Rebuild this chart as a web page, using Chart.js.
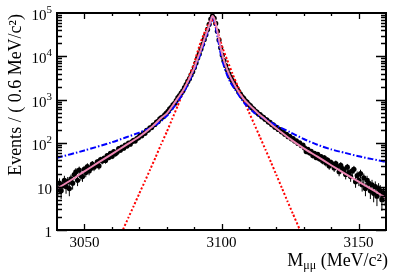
<!DOCTYPE html>
<html><head><meta charset="utf-8">
<script src="https://cdn.jsdelivr.net/npm/chart.js@4/dist/chart.umd.min.js"></script>
<style>html,body{margin:0;padding:0;background:#fff}#wrap{width:407px;height:276px;position:relative}</style>
</head><body><div id="wrap"><canvas id="c" width="407" height="276"></canvas></div>
<script>
// ---- data ----
const binLow = 3040, binWidth = 0.6;
const counts = [
9,12,8,11,14,10,13,9,15,12, 19,22,14,24,18,17,25,21,29,23,
26,33,28,31,37,30,42,39,45,40, 52,47,58,50,64,57,62,75,69,81,
77,90,86,101,95,108,117,112,128,134,
152,148,171,169,197,201,226,229,262,270,
305,318,362,391,405,452,497,541,622,668,
761,826,958,1131,1247,1436,1608,1921,2230,2651,
3072,3744,4450,5530,7040,9170,11430,14850,19010,24620,
31550,41760,54900,72510,85050,75920,57480,38090,23930,15900,
10680,7980,6140,4920,3960,3330,2800,2415,2030,1791,
1538,1360,1190,1081,947,880,785,733,652,612,
549,520,470,455,409,395,356,346,309,301,
269,263,234,231,208,205,183,182,161,159,
141,143,126,127,112,114,99,102,88,91,
78,64,72,60,65,52,58,47,55,44, 49,39,46,35,41,30,36,33,27,34,
29,22,31,26,24,19,28,21,17,23, 25,13,18,14,20,11,16,9,14,12,
8,11,7,10,6,9,8,5,7,6
];
const fitX = [3040,3045,3050,3055,3060,3065,3070,3075,3078,3080,3082,3084,3086,3088,3089,3090,3091,3092,3093,3094,3095,3096,3096.7,3097.3,3098,3099,3100,3101,3102,3103,3104,3105,3107,3109,3111,3113,3115,3118,3121,3125,3130,3135,3140,3145,3150,3155,3160];
const fitY = [9.0,14,22.5,35.5,56,89,141,250,380,480,710,1080,1650,2880,3900,5300,8000,11800,18000,28000,42000,65000,85000,76000,54000,26000,13000,7700,5100,3600,2700,2080,1300,900,675,510,400,277,197,126,76,49,31,20,13,8.5,5.5];
const bwX = [3040,3050,3060,3065,3070,3075,3080,3084,3086,3088,3090,3092,3094,3095.5,3096.7,3097.8,3099,3100,3101.3,3103,3105,3108.6,3112,3117,3120,3125,3130,3135,3140,3145,3150,3155,3160];
const bwY = [46,68,105,135,175,240,420,900,1400,2500,4800,10000,24000,48000,85000,50000,20000,9500,5000,2700,1700,800,500,330,255,180,125,92,72,60,50,43,37];
const gX = [3063.5,3064,3066,3068,3070,3072,3074,3076,3078,3080,3082,3084,3086,3088,3090,3092,3093.5,3095,3096.3,3097.5,3099,3100.5,3102,3104,3106,3108,3110,3112,3114,3116,3118,3120,3122,3124,3126,3128.6,3129];
const gY = [0.85,1,1.9,3.6,6.9,13,25,48,95,180,360,720,1500,3200,7000,18000,32000,52000,70000,55000,30000,15000,8500,4000,2000,1000,520,270,140,72,37,18.6,9.4,4.7,2.4,1,0.88];
const xTickValues = [3050,3100,3150];
const yTickValues = [1,10,100,1000,10000,100000];
const yTickBase = ['1','10','10','10','10','10'];
const yTickExp = ['','','2','3','4','5'];
const yTitle = 'Events / ( 0.6 MeV/c²)';

const pts = (xs, ys) => xs.map((v,i)=>({x:v, y:ys[i]}));
const dataPts = counts.map((n,i)=>({x: binLow + binWidth*(i+0.5), y:n}));

const SERIF = '"Liberation Serif", "DejaVu Serif", serif';

const deco = {
  id:'deco',
  beforeDatasetsDraw(chart){
    const {ctx, chartArea:a, scales:{x,y}} = chart;
    ctx.save();
    ctx.beginPath(); ctx.rect(a.left,a.top,a.right-a.left,a.bottom-a.top); ctx.clip();
    ctx.strokeStyle='#000'; ctx.lineWidth=1;
    dataPts.forEach(p=>{
      const e = Math.sqrt(p.y);
      const px = x.getPixelForValue(p.x);
      ctx.beginPath();
      ctx.moveTo(px, y.getPixelForValue(Math.max(p.y-e,0.5)));
      ctx.lineTo(px, y.getPixelForValue(p.y+e));
      ctx.stroke();
    });
    ctx.restore();
  },
  afterDraw(chart){
    const {ctx, chartArea:a, scales:{x,y}} = chart;
    ctx.save();
    ctx.strokeStyle='#000';
    ctx.lineWidth=1.3;
    ctx.beginPath();
    for(let v=3050; v<3160; v+=10){
      const px = Math.round(x.getPixelForValue(v))+0.5;
      const L = (v%50===0)?6:3;
      ctx.moveTo(px,a.bottom); ctx.lineTo(px,a.bottom-L);
      ctx.moveTo(px,a.top); ctx.lineTo(px,a.top+L);
    }
    for(let d=1; d<=1e4; d*=10){
      for(let k=1;k<10;k++){
        const v=d*k; const py=Math.round(y.getPixelForValue(v))+0.5;
        const L = k===1?10:5;
        ctx.moveTo(a.left,py); ctx.lineTo(a.left+L,py);
        ctx.moveTo(a.right,py); ctx.lineTo(a.right-L,py);
      }
    }
    ctx.stroke();
    ctx.lineWidth=2;
    ctx.strokeRect(a.left,a.top,a.right-a.left,a.bottom-a.top);
    ctx.fillStyle='#000';
    ctx.textBaseline='middle';
    yTickValues.forEach((v,i)=>{
      const py = y.getPixelForValue(v)+3;
      const right = 52;
      ctx.font = '11px '+SERIF;
      const we = yTickExp[i] ? ctx.measureText(yTickExp[i]).width : 0;
      ctx.font = '15px '+SERIF;
      ctx.textAlign='right';
      ctx.fillText(yTickBase[i], right-we, py);
      if(yTickExp[i]){
        ctx.font='11px '+SERIF; ctx.textAlign='left';
        ctx.fillText(yTickExp[i], right-we, py-6);
      }
    });
    ctx.save();
    ctx.translate(16,14); ctx.rotate(-Math.PI/2);
    ctx.font='18px '+SERIF; ctx.textAlign='right'; ctx.textBaseline='middle';
    ctx.fillText(yTitle,0,0);
    ctx.restore();
    ctx.textBaseline='alphabetic'; ctx.textAlign='left';
    ctx.font='18px '+SERIF; const w1=ctx.measureText('M').width; const w3=ctx.measureText(' (MeV/c²)').width;
    ctx.font='12px '+SERIF; const w2=ctx.measureText('μμ').width;
    let sx = 388-(w1+w2+w3);
    const by = 266;
    ctx.font='18px '+SERIF; ctx.fillText('M',sx,by);
    ctx.font='12px '+SERIF; ctx.fillText('μμ',sx+w1,by+3);
    ctx.font='18px '+SERIF; ctx.fillText(' (MeV/c²)',sx+w1+w2,by);
    ctx.restore();
  }
};

new Chart(document.getElementById('c'), {
  type:'line',
  data:{datasets:[
    {label:'fit', data:pts(fitX,fitY), borderColor:'rgb(238,135,180)', borderWidth:2, pointRadius:0, tension:0.25, order:0},
    {label:'bw', data:pts(bwX,bwY), borderColor:'#0000ff', borderWidth:2, borderDash:[6,2,1.5,2], pointRadius:0, tension:0.25, order:1},
    {label:'gauss', data:pts(gX,gY), borderColor:'#ff0000', borderWidth:2, borderDash:[2,2], pointRadius:0, tension:0.15, order:2},
    {label:'data', data:dataPts, showLine:false, pointRadius:2.6, pointBorderWidth:0, pointBackgroundColor:'#000', borderColor:'#000', order:3}
  ]},
  options:{
    responsive:false, animation:false, devicePixelRatio:1,
    layout:{padding:{left:0, top:13, right:21, bottom:0}},
    plugins:{legend:{display:false}, tooltip:{enabled:false}},
    scales:{
      x:{type:'linear', min:3040, max:3160,
        afterBuildTicks:s=>{s.ticks = xTickValues.map(v=>({value:v}));},
        afterFit:s=>{s.height=46;},
        grid:{display:false, drawTicks:false}, border:{display:false},
        ticks:{font:{family:SERIF, size:15}, color:'#000', padding:4, maxRotation:0, callback:v=>String(v)}},
      y:{type:'logarithmic', min:1, max:100000,
        afterBuildTicks:s=>{s.ticks = yTickValues.map(v=>({value:v}));},
        afterFit:s=>{s.width=57;},
        grid:{display:false, drawTicks:false}, border:{display:false},
        ticks:{display:true, color:'rgba(0,0,0,0)', font:{family:SERIF,size:15}, callback:()=>''}}
    }
  },
  plugins:[deco]
});
</script></body></html>
